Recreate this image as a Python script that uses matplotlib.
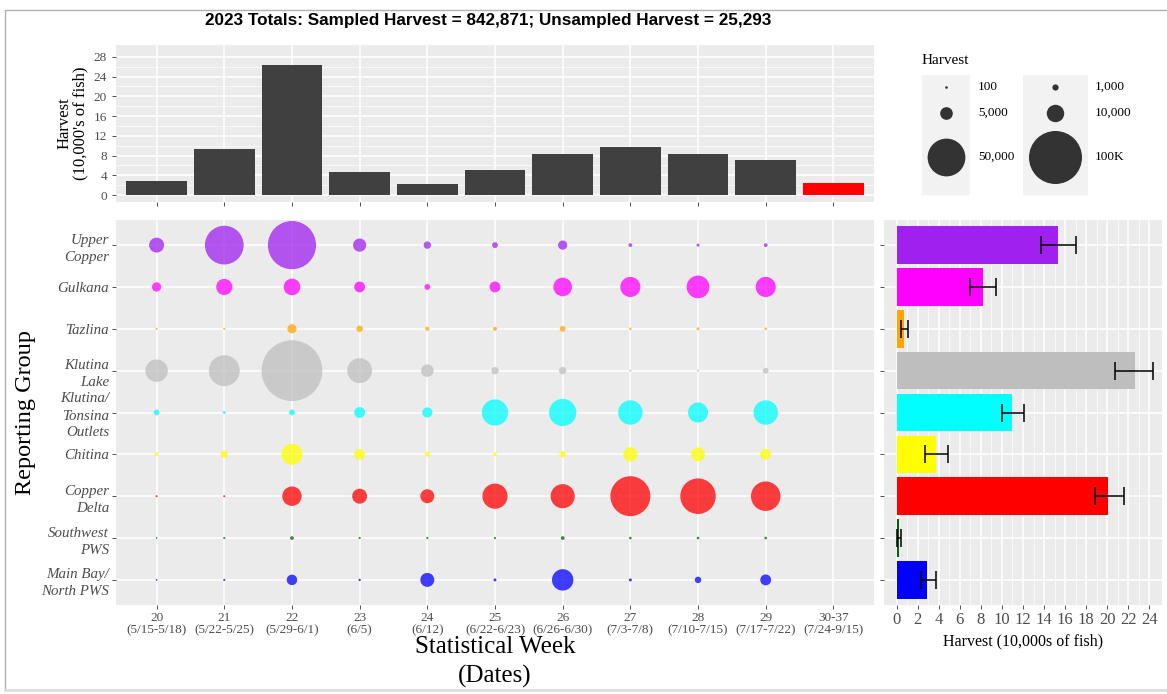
#!/usr/bin/env python3
"""
Sockeye harvest by statistical week and reporting group (bubble chart with marginal bars).
"""

import numpy as np
import matplotlib
matplotlib.use('Agg')
import matplotlib.pyplot as plt
from matplotlib.patches import Rectangle

W, H = 1167, 694
SERIF = 'Liberation Serif'

# statistical weeks (top bars and bubble columns)
weeks = ['20', '21', '22', '23', '24', '25', '26', '27', '28', '29', '30-37']
week_dates = ['(5/15-5/18)', '(5/22-5/25)', '(5/29-6/1)', '(6/5)', '(6/12)',
              '(6/22-6/23)', '(6/26-6/30)', '(7/3-7/8)', '(7/10-7/15)',
              '(7/17-7/22)', '(7/24-9/15)']
# weekly harvest, 10,000s of fish; last week is unsampled
week_harvest = [2.83, 9.31, 26.45, 4.59, 2.29, 5.06, 8.37, 9.78, 8.37, 7.08, 2.53]
week_sampled = [True] * 10 + [False]

# reporting groups
groups = ['Upper\nCopper', 'Gulkana', 'Tazlina', 'Klutina\nLake',
          'Klutina/\nTonsina\nOutlets', 'Chitina', 'Copper\nDelta',
          'Southwest\nPWS', 'Main Bay/\nNorth PWS']
group_colors = ['#A020F0', '#FF00FF', '#FFA500', '#BEBEBE', '#00FFFF',
                '#FFFF00', '#FF0000', '#006400', '#0000FF']

# harvest by group for weeks 20-29 (thousands of fish)
upper_copper = [7.2, 52.6, 82.4, 5.5, 1.5, 0.85, 2.5, 0.28, 0.15, 0.28]
gulkana = [2.5, 8.5, 9.0, 3.6, 0.85, 3.6, 11.5, 13.5, 17.5, 13.5]
tazlina = [0.05, 0.05, 2.5, 1.1, 0.35, 0.35, 0.85, 0.1, 0.15, 0.1]
klutina_lake = [17.0, 33.0, 132.0, 21.0, 4.9, 1.5, 1.5, 0.05, 0.05, 0.85]
klutina_tonsina = [0.85, 0.15, 0.85, 3.6, 3.1, 23.5, 25.4, 20.3, 13.4, 20.3]
chitina = [0.35, 1.5, 15.0, 3.6, 0.6, 0.28, 1.1, 6.5, 6.2, 3.6]
copper_delta = [0.05, 0.05, 12.5, 7.2, 6.2, 21.6, 19.8, 56.0, 44.0, 30.0]
southwest_pws = [0.02, 0.05, 0.28, 0.05, 0.05, 0.05, 0.28, 0.1, 0.1, 0.1]
main_bay = [0.02, 0.05, 3.3, 0.07, 6.2, 0.15, 15.4, 0.15, 1.1, 3.6]

# total harvest by group with 90% CI (10,000s of fish)
stock_harvest = [15.3, 8.24, 0.66, 22.6, 11.0, 3.74, 20.1, 0.2, 2.93]
stock_lo = [13.7, 7.0, 0.37, 20.7, 10.0, 2.67, 18.8, 0.03, 2.27]
stock_hi = [17.0, 9.45, 1.1, 24.3, 12.1, 4.87, 21.6, 0.37, 3.74]

legend_breaks = [100, 5000, 50000, 1000, 10000, 100000]
legend_labels = ['100', '5,000', '50,000', '1,000', '10,000', '100K']

PANEL = '#EBEBEB'
TICK = '#333333'
LABEL = '#4D4D4D'


def px_axes(fig, x0, y0, x1, y1):
    """Add axes from pixel box (y measured from top)."""
    return fig.add_axes([x0 / W, 1 - y1 / H, (x1 - x0) / W, (y1 - y0) / H])


def bubble_size(fish):
    """ggplot-like area scale -> scatter size in pt^2."""
    d_px = 1 + 52 * np.sqrt(np.asarray(fish, dtype=float) / 1e5)
    return (d_px * 72 / 100) ** 2


def style_panel(ax):
    ax.set_facecolor(PANEL)
    for s in ax.spines.values():
        s.set_visible(False)
    ax.set_axisbelow(True)
    ax.tick_params(colors=TICK, labelcolor=LABEL, length=3, width=0.6)


def main():
    fig = plt.figure(figsize=(W / 100, H / 100), dpi=100)
    fig.patch.set_facecolor('white')

    # thin outer frame
    frame = fig.add_axes([0, 0, 1, 1])
    frame.set_xlim(0, W)
    frame.set_ylim(H, 0)
    frame.axis('off')
    frame.plot([5, 5, W], [690, 10, 10], color='#B0B0B0', lw=1)
    frame.plot([5, W], [690, 690], color='#DDDDDD', lw=2)

    xpos = np.arange(len(weeks))
    ypos = np.arange(len(groups))

    # ---- top bars
    ax_top = px_axes(fig, 116, 45, 874, 202)
    style_panel(ax_top)
    bar_colors = ['#404040' if s else '#FF0000' for s in week_sampled]
    ax_top.bar(xpos, week_harvest, width=0.9, color=bar_colors)
    ax_top.set_xlim(-0.6, len(weeks) - 0.4)
    ax_top.set_ylim(-1.4, 30.4)
    ax_top.set_xticks(xpos)
    ax_top.set_xticklabels([])
    ax_top.set_yticks(np.arange(0, 29, 4))
    ax_top.set_yticks(np.arange(2, 30, 4), minor=True)
    ax_top.tick_params(which='minor', length=0)
    ax_top.grid(which='major', color='white', lw=1.1)
    ax_top.grid(which='minor', axis='y', color='white', lw=0.5)
    for lab in ax_top.get_yticklabels():
        lab.set_family(SERIF)
        lab.set_fontsize(9.5)
    ax_top.set_ylabel("Harvest\n(10,000's of fish)", family=SERIF, fontsize=12,
                      linespacing=1.0, labelpad=4)

    fig.text(488 / W, 1 - 20 / H,
             '2023 Totals: Sampled Harvest = 842,871; Unsampled Harvest = 25,293',
             family='Liberation Sans', fontweight='bold', fontsize=12.3,
             ha='center', va='center')

    # ---- bubble grid
    ax_b = px_axes(fig, 116, 220, 874, 605)
    style_panel(ax_b)
    ax_b.grid(which='major', color='white', lw=1.1)
    weekly = [upper_copper, gulkana, tazlina, klutina_lake, klutina_tonsina,
              chitina, copper_delta, southwest_pws, main_bay]
    for gi, row in enumerate(weekly):
        vals = np.array(row) * 1000
        ax_b.scatter(xpos[:len(vals)], np.full(len(vals), gi), s=bubble_size(vals),
                     color=group_colors[gi], alpha=0.75, linewidths=0, zorder=3)
    ax_b.set_xlim(-0.6, len(weeks) - 0.4)
    ax_b.set_ylim(len(groups) - 0.4, -0.6)
    ax_b.set_xticks(xpos)
    ax_b.set_xticklabels([f'{w}\n{d}' for w, d in zip(weeks, week_dates)],
                         family=SERIF, fontsize=9.5, linespacing=1.05)
    ax_b.set_yticks(ypos)
    ax_b.set_yticklabels(groups, family=SERIF, style='italic', fontsize=10.8,
                         linespacing=1.4)
    ax_b.tick_params(axis='x', pad=2)
    ax_b.tick_params(axis='y', pad=2)
    ax_b.set_xlabel('Statistical Week\n(Dates)', family=SERIF, fontsize=18,
                    linespacing=1.35, labelpad=0)
    ax_b.set_ylabel('Reporting Group', family=SERIF, fontsize=17.5, labelpad=4)

    # ---- right bars
    ax_r = px_axes(fig, 884, 220, 1162, 605)
    style_panel(ax_r)
    ax_r.set_xticks(np.arange(0, 25, 2))
    ax_r.set_xticks(np.arange(1, 25, 2), minor=True)
    ax_r.tick_params(which='minor', length=0)
    ax_r.grid(which='major', color='white', lw=1.1)
    ax_r.grid(which='minor', axis='x', color='white', lw=0.5)
    ax_r.barh(ypos, stock_harvest, height=0.9, color=group_colors, zorder=3)
    err = [np.array(stock_harvest) - np.array(stock_lo),
           np.array(stock_hi) - np.array(stock_harvest)]
    ax_r.errorbar(stock_harvest, ypos, xerr=err, fmt='none', ecolor='black',
                  elinewidth=1.1, capsize=6.5, capthick=1.1, zorder=4)
    ax_r.set_xlim(-1.2, 25.2)
    ax_r.set_ylim(len(groups) - 0.4, -0.6)
    ax_r.set_yticks(ypos)
    ax_r.set_yticklabels([])
    for lab in ax_r.get_xticklabels():
        lab.set_family(SERIF)
        lab.set_fontsize(12)
    ax_r.tick_params(axis='x', pad=2)
    ax_r.set_xlabel('Harvest (10,000s of fish)', family=SERIF, fontsize=11.5,
                    labelpad=4)

    # ---- size legend
    ax_l = px_axes(fig, 900, 40, 1167, 215)
    ax_l.set_xlim(900, 1167)
    ax_l.set_ylim(215, 40)
    ax_l.axis('off')
    ax_l.text(922, 60, 'Harvest', family=SERIF, fontsize=11, va='center')
    key_cols = [(922, 970, 946, 978), (1023, 1088, 1055, 1095)]
    key_rows = [87, 113, 157]
    for ci, (k0, k1, cx, tx) in enumerate(key_cols):
        ax_l.add_patch(Rectangle((k0, 75), k1 - k0, 120, facecolor='#F2F2F2',
                                 edgecolor='none'))
        for ri, ry in enumerate(key_rows):
            v = legend_breaks[ci * 3 + ri]
            ax_l.scatter([cx], [ry], s=bubble_size(v), color='#333333',
                         linewidths=0, zorder=3)
            ax_l.text(tx, ry, legend_labels[ci * 3 + ri], family=SERIF,
                      fontsize=9.5, va='center')

    plt.savefig('out.png', dpi=100, facecolor='white')


if __name__ == '__main__':
    main()
